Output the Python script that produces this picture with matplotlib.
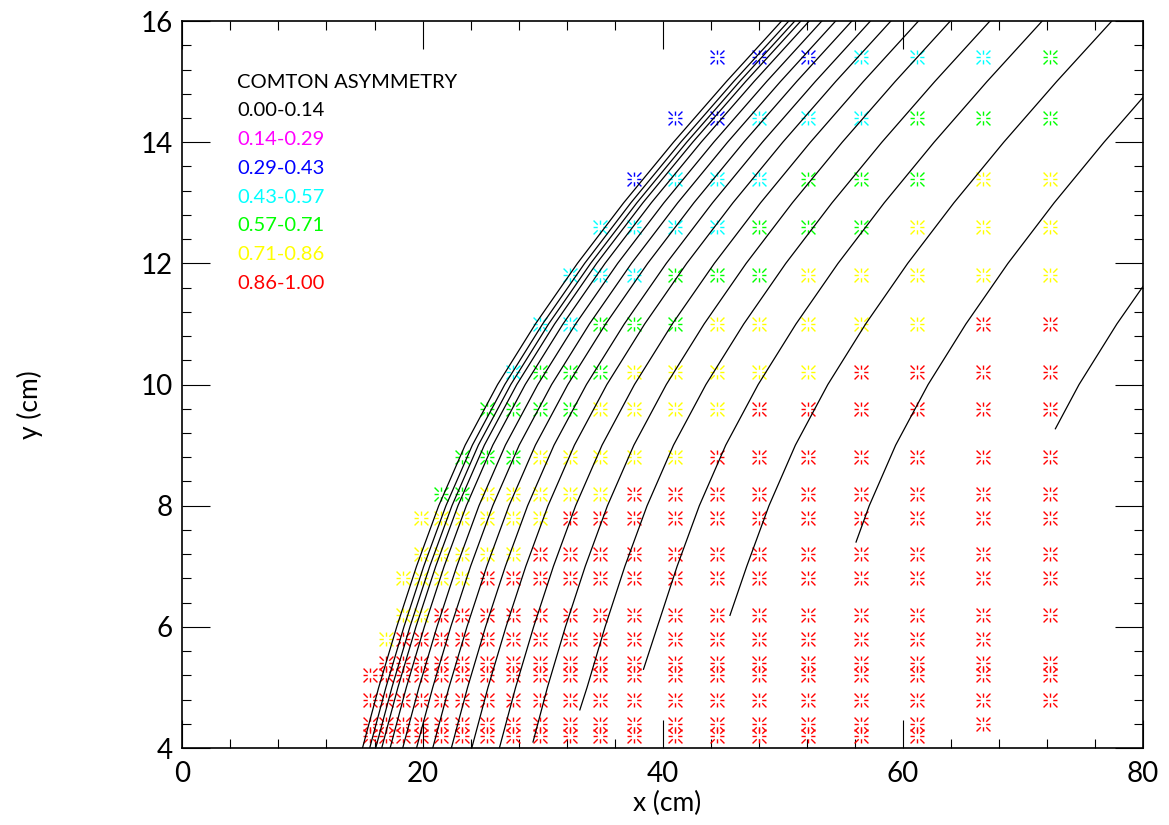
import matplotlib
matplotlib.use("Agg")
import matplotlib.pyplot as plt
from matplotlib.path import Path
import numpy as np

plt.rcParams['font.family'] = ['Lato', 'DejaVu Sans']

# marker grid (cm)
col_x = [15.6, 16.95, 18.35, 19.85, 21.55, 23.3, 25.4, 27.5, 29.8, 32.25,
         34.8, 37.6, 41.05, 44.5, 48.0, 52.1, 56.55, 61.15, 66.7, 72.25]
row_y = [15.4, 14.4, 13.4, 12.6, 11.8, 11.0, 10.2, 9.6, 8.8, 8.2,
         7.8, 7.2, 6.8, 6.2, 5.8, 5.4, 5.2, 4.8, 4.4, 4.2]
# asymmetry class of each point, one string per row ('.' = no point)
row_class = [
    ".............2223334",
    "............22333444",
    "...........233344455",
    "..........3333444555",
    ".........33344455555",
    "........334445555566",
    ".......3444555556666",
    "......44445555666666",
    ".....444555556666666",
    "....4455555666666666",
    "...55555566666666666",
    "...55555666666666666",
    "..555566666666666666",
    "..556666666666666666",
    ".566666666666666666.",
    ".6666666666666666666",
    "66666666666666666666",
    "66666666666666666666",
    "6666666666666666666.",
    "666666666666666666..",
]

class_labels = ['0.00-0.14', '0.14-0.29', '0.29-0.43', '0.43-0.57',
                '0.57-0.71', '0.71-0.86', '0.86-1.00']
class_colors = ['black', '#ff00ff', '#0000ff', '#00ffff',
                '#00ff00', '#ffff00', '#ff0000']

# black curves
levels = [4, 5, 6, 7, 8, 9, 10, 11, 12, 13, 14, 15, 16]
curve_x = [
    [15.0, 16.35, 17.85, 19.5, 21.35, 23.55, 26.25, 29.4, 32.9, 36.75, 40.9, 45.3, 49.9],
    [15.6, 16.95, 18.45, 20.1, 21.95, 24.15, 26.85, 30.0, 33.5, 37.35, 41.5, 45.9, 50.5],
    [16.1, 17.45, 18.95, 20.6, 22.45, 24.65, 27.35, 30.5, 34.0, 37.85, 42.0, 46.4, 51.0],
    [16.6, 17.95, 19.45, 21.1, 22.95, 25.15, 27.85, 31.0, 34.5, 38.35, 42.5, 46.9, 51.5],
    [17.3, 18.65, 20.15, 21.8, 23.65, 25.85, 28.55, 31.7, 35.2, 39.05, 43.2, 47.6, 52.2],
    [18.35, 19.7, 21.2, 22.85, 24.7, 26.9, 29.6, 32.75, 36.25, 40.1, 44.25, 48.65, 53.25],
    [19.5, 20.85, 22.35, 24.0, 25.85, 28.05, 30.75, 33.9, 37.4, 41.25, 45.4, 49.8, 54.4],
    [20.85, 22.2, 23.7, 25.35, 27.2, 29.4, 32.1, 35.25, 38.75, 42.6, 46.75, 51.15, 55.75],
    [22.4, 23.75, 25.25, 26.9, 28.75, 30.95, 33.65, 36.8, 40.3, 44.15, 48.3, 52.7, 57.3],
    [24.1, 25.45, 26.95, 28.6, 30.45, 32.65, 35.35, 38.5, 42.0, 45.85, 50.0, 54.4, 59.0],
    [26.4, 27.75, 29.25, 30.9, 32.75, 34.95, 37.65, 40.8, 44.3, 48.15, 52.3, 56.7, 61.3],
    [29.2, 30.4, 31.9, 33.55, 35.4, 37.6, 40.3, 43.45, 46.95, 50.8, 54.95, 59.35, 63.95],
    [33.1, 33.7, 35.2, 36.85, 38.7, 40.9, 43.6, 46.75, 50.25, 54.1, 58.25, 62.65, 67.25],
    [38.4, 39.55, 41.2, 43.05, 45.25, 47.95, 51.1, 54.6, 58.45, 62.6, 67.0, 71.6],
    [45.6, 47.0, 48.85, 51.05, 53.75, 56.9, 60.4, 64.25, 68.4, 72.8, 77.4],
    [56.1, 57.2, 59.4, 62.1, 65.25, 68.75, 72.6, 76.75, 80.0],
    [72.7, 74.67, 77.82, 80.0],
]
curve_y = [levels] * 11 + [
    [4.1] + levels[1:],
    [4.63] + levels[1:],
    [5.3] + levels[2:],
    [6.19] + levels[3:],
    [7.4, 8, 9, 10, 11, 12, 13, 14, 14.74],
    [9.27, 10, 11, 11.62],
]

fig = plt.figure(figsize=(11.69, 8.25), dpi=100)
ax = fig.add_axes([0.156, 0.0933, 0.8218, 0.8812])

# open asterisk marker: 8 spokes reaching the edges/corners of a square,
# with an empty middle
verts, codes = [], []
for dx, dy in [(1, 0), (1, 1), (0, 1), (-1, 1), (-1, 0), (-1, -1), (0, -1), (1, -1)]:
    verts += [(0.4 * dx, 0.4 * dy), (dx, dy)]
    codes += [Path.MOVETO, Path.LINETO]
star = Path(verts, codes)

for k, color in enumerate(class_colors):
    px, py = [], []
    for yv, row in zip(row_y, row_class):
        for xv, ch in zip(col_x, row):
            if ch == str(k):
                px.append(xv)
                py.append(yv)
    if px:
        ax.plot(px, py, linestyle='none', marker=star, ms=10,
                mec=color, mfc='none', mew=1.0)

for cx, cy in zip(curve_x, curve_y):
    ax.plot(cx, cy, color='black', lw=0.9)

ax.set_xlim(0, 80)
ax.set_ylim(4, 16)
ax.set_xticks([0, 20, 40, 60, 80])
ax.set_xticks(np.arange(0, 81, 4), minor=True)
ax.set_yticks([4, 6, 8, 10, 12, 14, 16])
ax.set_yticks(np.arange(4, 16.01, 0.4), minor=True)
ax.tick_params(which='both', direction='in', top=True, right=True,
               width=0.8, labelsize=20)
ax.tick_params(which='major', length=20)
ax.tick_params(which='minor', length=6.5)
ax.tick_params(axis='x', pad=9)
ax.tick_params(axis='y', pad=7)
for s in ax.spines.values():
    s.set_linewidth(1.2)

W, H = 1169, 825
fig.text(237 / W, 1 - 82 / H, 'COMTON ASYMMETRY', va='center', fontsize=14.5)
for i, (lab, col) in enumerate(zip(class_labels, class_colors)):
    fig.text(237 / W, 1 - (111 + 28.7 * i) / H, lab, color=col,
             va='center', fontsize=14.5)

fig.text(667 / W, 1 - 803 / H, 'x (cm)', ha='center', va='center', fontsize=19)
fig.text(30 / W, 1 - 405 / H, 'y (cm)', ha='center', va='center',
         rotation=90, fontsize=19)

fig.savefig('out.png', dpi=100)
